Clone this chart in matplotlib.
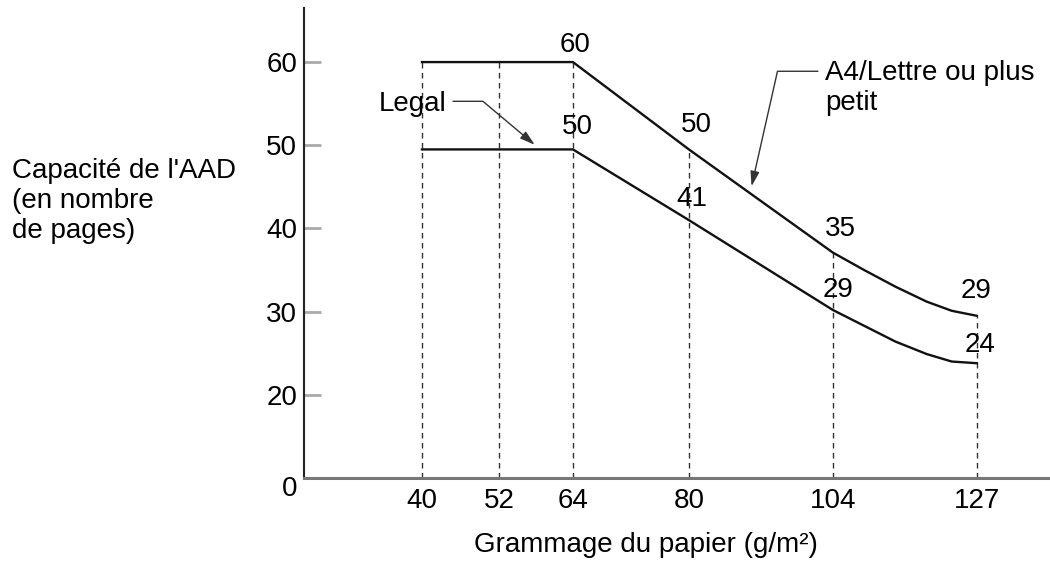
import numpy as np
import matplotlib
matplotlib.use('Agg')
from matplotlib import pyplot as plt
from matplotlib import transforms

plt.rcParams['font.family'] = ['Liberation Sans', 'DejaVu Sans']
plt.rcParams['font.size'] = 20

# paper weights on the x axis (g/m2)
grammage = [40, 52, 64, 80, 104, 127]
grammage_labels = ['40', '52', '64', '80', '104', '127']

# the two curves as drawn
curve_x = [40, 52, 64, 80, 104, 109, 114, 119, 123, 127]
a4_curve = [60, 60, 60, 49.5, 37.1, 35.0, 33.0, 31.2, 30.1, 29.5]
legal_curve = [49.5, 49.5, 49.5, 41.0, 30.2, 28.3, 26.4, 24.9, 24.0, 23.8]

# values printed on the chart
value_x = [64, 80, 104, 127]
a4_values = [60, 50, 35, 29]
legal_values = [50, 41, 29, 24]

y_ticks = [10, 20, 30, 40, 50, 60]
y_labels = ['0', '20', '30', '40', '50', '60']

# uneven spacing of the x axis (piecewise linear scale)
scale_w = [0, 40, 52, 64, 80, 104, 127, 300]
scale_p = [-256, 0, 77, 151, 267, 411, 555, 1638]


def fwd(x):
    return np.interp(x, scale_w, scale_p)


def inv(p):
    return np.interp(p, scale_p, scale_w)


fig = plt.figure(figsize=(10.5, 5.62), dpi=100)
ax = fig.add_axes([304 / 1050, 84 / 562, 746 / 1050, 470 / 562])
ax.set_xscale('function', functions=(fwd, inv))
ax.set_xlim(21.56, 138.7)
ax.set_ylim(10, 66.5)

# dashed guides from the axis up to the A4 curve
ax.vlines(grammage, 10, np.interp(grammage, curve_x, a4_curve),
          colors='#333333', linewidth=1.0, linestyles=(0, (4, 3.2)), zorder=1)

ax.plot(curve_x, a4_curve, color='#111111', linewidth=1.7, zorder=3)
ax.plot(curve_x, legal_curve, color='#111111', linewidth=1.7, zorder=3)

# value labels, offsets in pixels from the curve point
a4_off = [(2, 17.5), (7, 24.5), (8, 23.5), (-1, 25)]
legal_off = [(4, 22.5), (3, 21.5), (5.5, 19.5), (3, 18.5)]
for x, v, (dx, dy) in zip(value_x, a4_values, a4_off):
    ax.annotate(str(v), (x, np.interp(x, curve_x, a4_curve)),
                xytext=(dx * 0.72, dy * 0.72), textcoords='offset points',
                ha='center', va='center')
for x, v, (dx, dy) in zip(value_x, legal_values, legal_off):
    ax.annotate(str(v), (x, np.interp(x, curve_x, legal_curve)),
                xytext=(dx * 0.72, dy * 0.72), textcoords='offset points',
                ha='center', va='center')

arrow = dict(arrowstyle='-|>,head_length=0.6,head_width=0.18',
             mutation_scale=15, color='#333333', lw=1.0, shrinkA=3, shrinkB=0)
ax.annotate('Legal', xy=(57.8, 50.06), xytext=(43.75, 54.13),
            ha='right', va='baseline',
            arrowprops=dict(arrow, relpos=(1, 0.6),
                            connectionstyle='angle,angleA=0,angleB=-40,rad=0'))
ax.annotate('A4/Lettre ou plus\npetit', xy=(90.45, 45.07), xytext=(102.67, 60.24),
            ha='left', va='top',
            arrowprops=dict(arrow, relpos=(0, 0.8),
                            connectionstyle='angle,angleA=180,angleB=77.3,rad=0'))

ax.set_xticks(grammage, grammage_labels)
ax.set_yticks(y_ticks, y_labels)
ax.tick_params(axis='x', length=0, pad=7)
ax.tick_params(axis='y', direction='in', length=12, width=2, color='#aaaaaa', pad=5)

# the "0" label sits a little below the axis line
zero = ax.get_yticklabels()[0]
zero.set_transform(zero.get_transform()
                   + transforms.ScaledTranslation(0, -6 / 72, fig.dpi_scale_trans))

for s in ['top', 'right']:
    ax.spines[s].set_visible(False)
ax.spines['left'].set_color('#222222')
ax.spines['left'].set_linewidth(1.5)
ax.spines['bottom'].set_color('#777777')
ax.spines['bottom'].set_linewidth(2.2)

fig.text(12 / 1050, 1 - 158 / 562, "Capacité de l'AAD\n(en nombre\nde pages)",
         ha='left', va='top')
fig.text(646 / 1050, 1 - 545 / 562, 'Grammage du papier (g/m²)',
         ha='center', va='center')

fig.savefig('out.png', dpi=100)
